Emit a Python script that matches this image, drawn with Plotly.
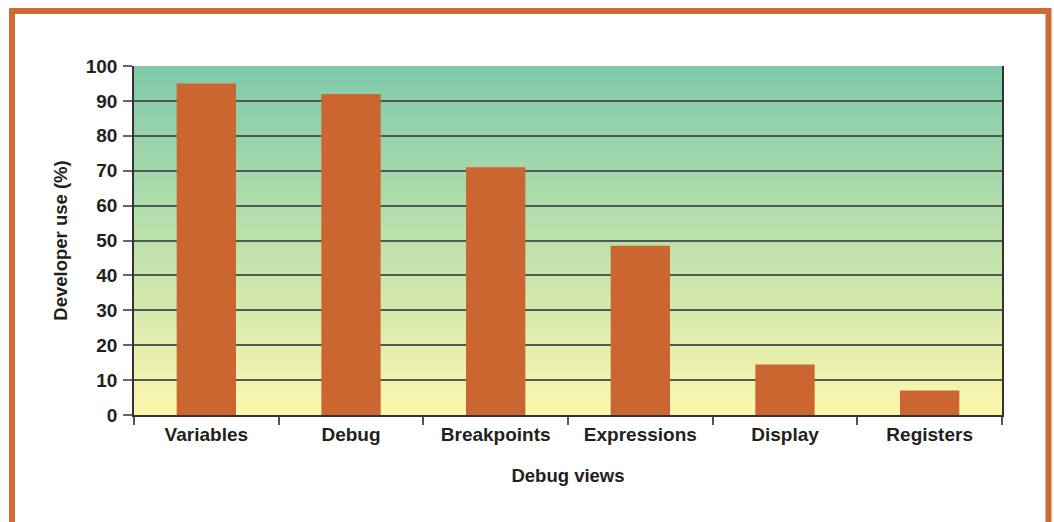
import plotly.graph_objects as go

categories = ["Variables", "Debug", "Breakpoints", "Expressions", "Display", "Registers"]
usage = [95, 92, 71, 48.5, 14.5, 7]
y_ticks = [0, 10, 20, 30, 40, 50, 60, 70, 80, 90, 100]

FONT = "Liberation Sans, Arial, sans-serif"
TXT = "#231f20"
BAR = "#cc6630"

fig = go.Figure()
fig.add_trace(go.Bar(x=categories, y=usage, marker=dict(color=BAR, line=dict(width=0)),
                     width=0.41, hoverinfo="x+y"))

# vertical gradient background (green top -> pale yellow bottom)
top = (126, 202, 170)
bot = (252, 247, 174)
n = 70
shapes = []
for i in range(n):
    t = (i + 0.5) / n
    c = tuple(round(bot[k] + (top[k] - bot[k]) * t) for k in range(3))
    shapes.append(dict(type="rect", xref="x domain", yref="y domain",
                       x0=0, x1=1, y0=i / n, y1=min(1.0, (i + 1.8) / n),
                       fillcolor="rgb(%d,%d,%d)" % c, line=dict(width=0), layer="below"))

# orange frame
shapes.append(dict(type="rect", xref="paper", yref="paper",
                   x0=(12 - 134) / 868, x1=(1048.5 - 134) / 868,
                   y0=(415 - 540) / 349, y1=(415 - 11) / 349,
                   line=dict(color="#d06a35", width=6), fillcolor="rgba(0,0,0,0)", layer="above"))

fig.update_layout(
    width=1054, height=522,
    margin=dict(l=134, r=52, t=66, b=107, autoexpand=False),
    paper_bgcolor="white", plot_bgcolor="rgba(0,0,0,0)",
    showlegend=False, shapes=shapes,
    font=dict(family=FONT, color=TXT, size=19),
    bargap=0.59,
)
fig.update_xaxes(
    automargin=False,
    tickfont=dict(family=FONT, size=19, color=TXT, weight="bold"),
    showline=True, linecolor="#333333", linewidth=1.5,
    ticks="outside", tickson="boundaries", ticklen=8, tickcolor="#555555", tickwidth=1.5,
    ticklabelstandoff=1,
    showgrid=False,
    title=dict(text="Debug views", font=dict(family=FONT, size=18.5, color=TXT, weight="bold"), standoff=26),
)
fig.update_yaxes(
    automargin=False,
    range=[0, 100], tickvals=y_ticks,
    tickfont=dict(family=FONT, size=19, color=TXT, weight="bold"),
    showline=True, mirror=True, linecolor="#333333", linewidth=1.5,
    ticks="outside", ticklen=9, tickcolor="#666666", tickwidth=1.5,
    ticklabelstandoff=2,
    showgrid=True, gridcolor="#4f5a52", gridwidth=1.5, zeroline=False,
    title=dict(text="Developer use (%)", font=dict(family=FONT, size=18.5, color=TXT, weight="bold"), standoff=13),
)

fig.write_html("out.html", config={"displayModeBar": False},
               post_script="document.body.style.margin='0';")
